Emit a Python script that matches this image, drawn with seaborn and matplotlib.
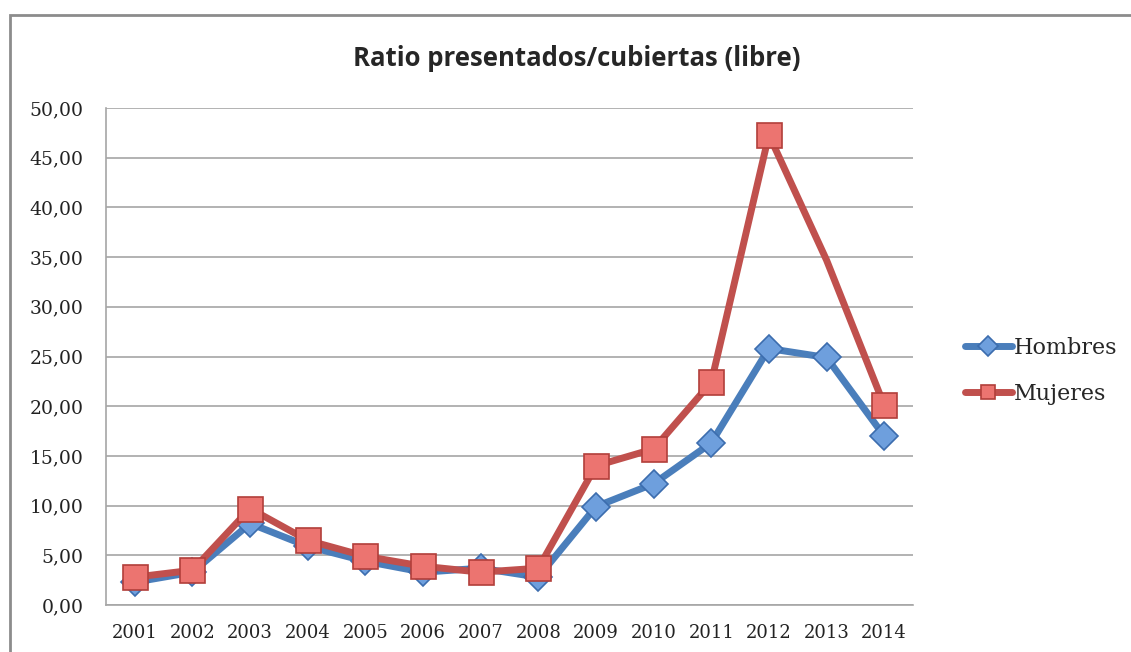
import numpy as np
import pandas as pd
import seaborn as sns
import matplotlib.pyplot as plt
from matplotlib.patches import Rectangle
from matplotlib.ticker import FuncFormatter

years = list(range(2001, 2015))
hombres = [2.3, 3.3, 8.2, 5.9, 4.4, 3.3, 3.7, 2.8, 9.9, 12.2, 16.3, 25.8, 24.9, 17.0]
mujeres = [2.8, 3.5, 9.7, 6.5, 4.9, 3.9, 3.3, 3.7, 14.0, 15.7, 22.4, 47.3, 34.7, 20.1]
# 2013 has no marker on the Mujeres line in the original
mujeres_sin_marca = [2013]

df = pd.DataFrame({
	"year": years * 2,
	"valor": hombres + mujeres,
	"serie": ["Hombres"] * len(years) + ["Mujeres"] * len(years),
})

sns.set_style("white")
plt.rcParams['font.family'] = ['DejaVu Serif']

fig = plt.figure(figsize=(11.31, 6.52), dpi=100)
ax = fig.add_axes([106/1131, 1-605/652, (913-106)/1131, (605-108)/652])

azul = "#4A7EBB"
rojo = "#C0504D"
sns.lineplot(data=df, x="year", y="valor", hue="serie", style="serie",
	markers={"Hombres": "D", "Mujeres": "s"}, dashes=False,
	palette={"Hombres": azul, "Mujeres": rojo}, linewidth=5, ax=ax, legend=False)

l_h, l_m = ax.lines[0], ax.lines[1]
l_h.set_markersize(14)
l_h.set_markerfacecolor("#6E9FDD")
l_h.set_markeredgecolor("#3C6DAE")
l_h.set_markeredgewidth(1.2)
l_m.set_markersize(18)
l_m.set_markerfacecolor("#EC7470")
l_m.set_markeredgecolor("#B23E3A")
l_m.set_markeredgewidth(1.2)
l_m.set_markevery([i for i, y in enumerate(years) if y not in mujeres_sin_marca])

ax.set_xlim(2000.5, 2014.5)
ax.set_ylim(0, 50)
ax.set_xticks(years)
ax.set_yticks(np.arange(0, 51, 5))
ax.yaxis.set_major_formatter(FuncFormatter(lambda v, p: ("%.2f" % v).replace(".", ",")))
ax.grid(axis="y", color="#A6A6A6", linewidth=1.2)
ax.set_axisbelow(True)
ax.set_xlabel("")
ax.set_ylabel("")
for s in ["top", "right"]:
	ax.spines[s].set_visible(False)
for s in ["left", "bottom"]:
	ax.spines[s].set_color("#A6A6A6")
	ax.spines[s].set_linewidth(1.2)
ax.tick_params(axis="y", length=6, color="#A6A6A6", labelsize=13.5, labelcolor="#222222", pad=10)
ax.tick_params(axis="x", length=0, labelsize=13, labelcolor="#222222", pad=14)

fig.text(577/1131, 1-58/652, "Ratio presentados/cubiertas (libre)", ha="center", va="center",
	fontsize=18.5, fontweight="bold", family=["Open Sans"])

leg = ax.legend([l_h, l_m], ["Hombres", "Mujeres"], loc="center left",
	bbox_to_anchor=(954/1131, 1-371/652), bbox_transform=fig.transFigure,
	frameon=False, fontsize=16, handlelength=2.1, handletextpad=0.1,
	labelspacing=1.1, borderpad=0)
for ln, ms in zip(leg.get_lines(), [10, 10]):
	ln.set_markersize(ms)
	ln.set_solid_capstyle("round")

fig.patches.append(Rectangle((10/1131, -0.1), 1.2, (652-15)/652 + 0.1,
	transform=fig.transFigure, fill=False, edgecolor="#8C8C8C", linewidth=2))

plt.savefig("out.png", dpi=100, facecolor="w")
